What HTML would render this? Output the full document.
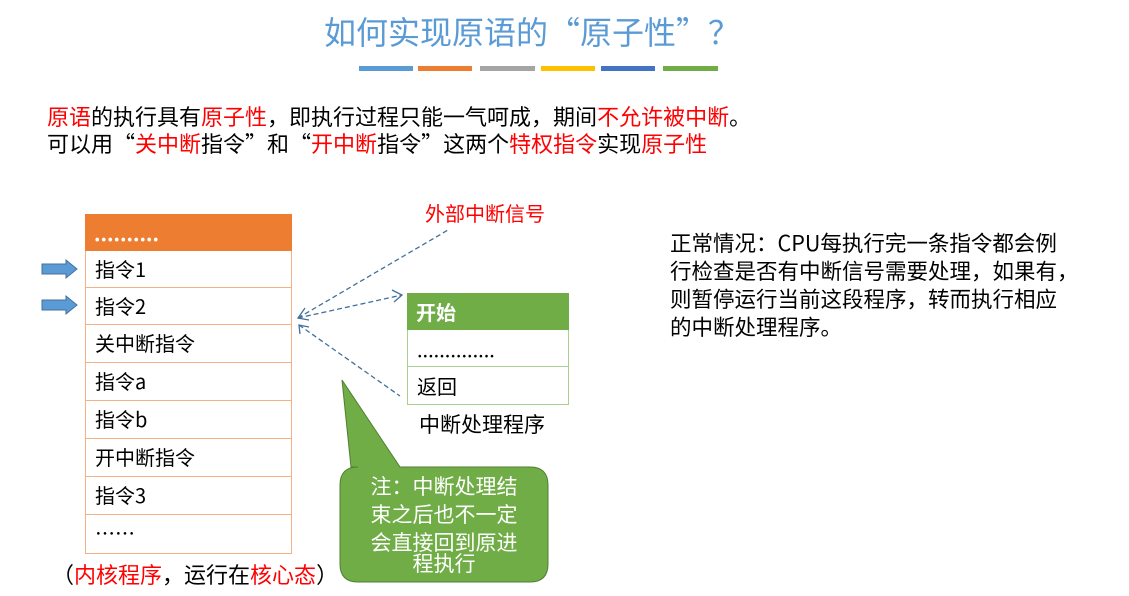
<!DOCTYPE html>
<html><head><meta charset="utf-8"><style>
body{margin:0;width:1129px;height:596px;background:#fff;position:relative;overflow:hidden;font-family:"Noto Sans CJK SC","Liberation Sans",sans-serif;}
.a{position:absolute;white-space:nowrap}
.r{color:#ff0000}
.row{position:absolute;left:85px;width:207px;border:1px solid #f4b183;border-top:none;font-size:20px;line-height:36px;padding-left:9px;box-sizing:border-box;background:#fff}
</style></head><body>
<div class="a" style="left:0;width:1064px;text-align:center;top:9px;font-size:32px;line-height:44px;color:#5b9bd5">如何实现原语的“原子性”？</div>
<div class="a" style="left:359px;top:66px;width:54px;height:5px;background:#5b9bd5"></div>
<div class="a" style="left:418px;top:66px;width:54px;height:5px;background:#ed7d31"></div>
<div class="a" style="left:480px;top:66px;width:55px;height:5px;background:#a5a5a5"></div>
<div class="a" style="left:541px;top:66px;width:54px;height:5px;background:#ffc000"></div>
<div class="a" style="left:601px;top:66px;width:54px;height:5px;background:#4472c4"></div>
<div class="a" style="left:663px;top:66px;width:55px;height:5px;background:#70ad47"></div>
<div class="a" style="left:47px;top:103px;font-size:22px;line-height:27px;color:#000"><span class="r">原语</span>的执行具有<span class="r">原子性</span>，即执行过程只能一气呵成，期间<span class="r">不允许被中断</span>。<br>可以用“<span class="r">关中断</span>指令”和“<span class="r">开中断</span>指令”这两个<span class="r">特权指令</span>实现<span class="r">原子性</span></div>

<div class="a" style="left:85px;top:214px;width:207px;height:37px;background:#ed7d31;color:#fff;font-size:20px;line-height:37px;padding-left:9px;box-sizing:border-box;font-weight:bold">..........</div>
<div class="row" style="top:251px;height:37px">指令1</div>
<div class="row" style="top:288px;height:37px">指令2</div>
<div class="row" style="top:325px;height:38px">关中断指令</div>
<div class="row" style="top:363px;height:38px">指令a</div>
<div class="row" style="top:401px;height:38px">指令b</div>
<div class="row" style="top:439px;height:38px">开中断指令</div>
<div class="row" style="top:477px;height:38px">指令3</div>
<div class="row" style="top:515px;height:39px">……</div>
<div class="a" style="left:52px;top:560px;font-size:22px;line-height:28px">（<span class="r">内核程序</span>，运行在<span class="r">核心态</span>）</div>

<div class="a" style="left:407px;top:293px;width:162px;height:37px;background:#70ad47;color:#fff;font-size:20px;line-height:37px;padding-left:9px;box-sizing:border-box;font-weight:bold">开始</div>
<div class="a" style="left:407px;top:330px;width:162px;height:37px;border:1px solid #a9d18e;border-top:none;box-sizing:border-box;font-size:20px;line-height:37px;padding-left:9px">..............</div>
<div class="a" style="left:407px;top:367px;width:162px;height:38px;border:1px solid #a9d18e;border-top:none;box-sizing:border-box;font-size:20px;line-height:37px;padding-left:9px">返回</div>
<div class="a" style="left:419px;top:410px;font-size:21px;line-height:28px">中断处理程序</div>
<div class="a r" style="left:425px;top:199px;font-size:20px;line-height:28px">外部中断信号</div>

<svg class="a" style="left:0;top:0" width="1129" height="596">
<g stroke="#41719c" stroke-width="1.3" stroke-dasharray="5,3" fill="none">
<line x1="298" y1="318" x2="448" y2="230"/>
<line x1="298" y1="318" x2="402" y2="295"/>
<line x1="299" y1="325" x2="400" y2="396"/>
</g>
<g stroke="#41719c" stroke-width="1.3" fill="none">
<polyline points="305,308 298,318 309,320"/>
<polyline points="392,290 402,295 394,302"/>
<polyline points="300,334 299,325 309,327"/>
</g>
<polygon points="42,264 66,264 66,260 77,269 66,278 66,274 42,274" fill="#5b9bd5" stroke="#41719c"/>
<polygon points="42,300 66,300 66,296 77,305 66,314 66,310 42,310" fill="#5b9bd5" stroke="#41719c"/>
<path d="M342,380 L400,467 L530,467 Q548,467 548,485 L548,564 Q548,582 530,582 L358,582 Q340,582 340,564 L340,485 Q340,467 358,467 L351,467 Z" fill="#70ad47" stroke="#507e32" stroke-width="1"/>
</svg>
<div class="a" style="left:340px;top:472px;width:208px;text-align:center;color:#fff;font-size:21px;line-height:28px">注：中断处理结<br>束之后也不一定<br>会直接回到原进<br><span style="position:relative;top:-7px">程执行</span></div>
<div class="a" style="left:670px;top:229px;font-size:21.5px;line-height:28px">正常情况：CPU每执行完一条指令都会例<br>行检查是否有中断信号需要处理，如果有，<br>则暂停运行当前这段程序，转而执行相应<br>的中断处理程序。</div>
</body></html>
